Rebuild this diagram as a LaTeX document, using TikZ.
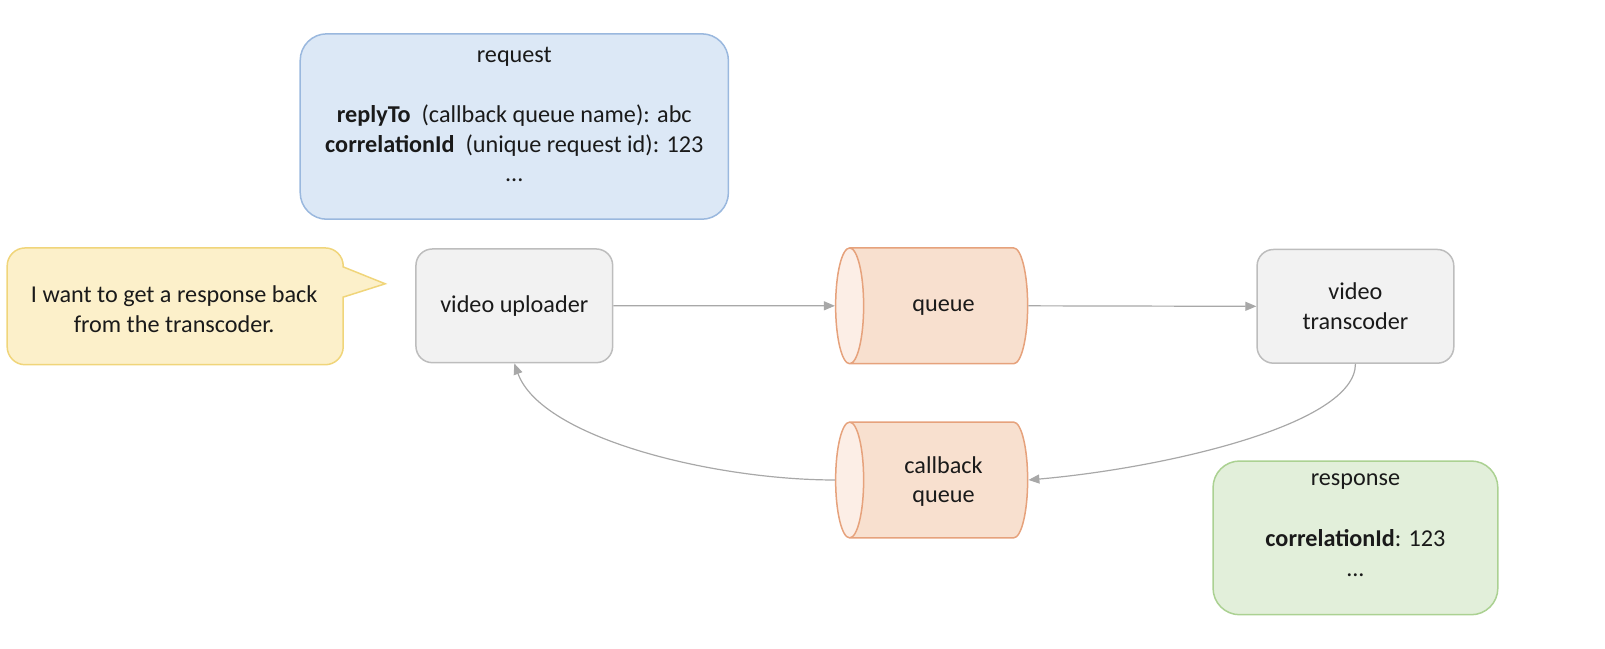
\documentclass[tikz,border=0pt]{standalone}
\usepackage{fontspec}
\setmainfont{Carlito}
\usetikzlibrary{shapes.geometric,arrows.meta}
\definecolor{txt}{HTML}{1A1A1A}
\definecolor{reqfill}{HTML}{DCE8F6}
\definecolor{reqline}{HTML}{9AB8DE}
\definecolor{sayfill}{HTML}{FCF0CA}
\definecolor{sayline}{HTML}{F0D57A}
\definecolor{boxfill}{HTML}{F2F2F2}
\definecolor{boxline}{HTML}{BDBDBD}
\definecolor{qfill}{HTML}{F8E0CF}
\definecolor{qend}{HTML}{FCEEE6}
\definecolor{qline}{HTML}{E6A27C}
\definecolor{resfill}{HTML}{E2EFDA}
\definecolor{resline}{HTML}{ABD192}
\definecolor{wire}{HTML}{A8A8A8}
\tikzset{
  service/.style={rounded corners=16.4pt, draw=boxline, fill=boxfill, line width=1.5pt,
    minimum width=196.7pt, minimum height=113.7pt, align=center, text=txt},
  queuebox/.style={cylinder, shape border rotate=180, aspect=1, inner sep=14pt, draw=qline,
    line width=1.5pt, cylinder uses custom fill, cylinder body fill=qfill,
    cylinder end fill=qend, minimum width=115.8pt, minimum height=192pt,
    label={[text=txt, align=center, yshift=-1.5pt]center:#1}},
  msgbox/.style={rounded corners=26.6pt, line width=1.5pt, align=center, text=txt},
  wire/.style={draw=wire, line width=1.2pt, -{Triangle[length=11pt,width=9pt]}},
}
\begin{document}
\begin{tikzpicture}[x=1.0245pt, y=-1.0245pt, every node/.style={font=\fontsize{24.2}{29.5}\selectfont}]
  \useasboundingbox (0,0) rectangle (1566.6,632.5);
  % messages
  \node[msgbox, draw=reqline, fill=reqfill, minimum width=428.2pt, minimum height=185.4pt] (request) at (502,123.5) {};
  \node[text=txt] (reqtitle) at (502,55) {request};
  \node[text=txt, align=center] (reqbody) at (502,140) {\textbf{replyTo}~~(callback queue name): abc\\
    \textbf{correlationId}~~(unique request id): 123\\...};
  \node[msgbox, draw=resline, fill=resfill, minimum width=284.8pt, minimum height=153.7pt] (response) at (1323,525) {};
  \node[text=txt] (restitle) at (1323,470) {response};
  \node[text=txt, align=center] (resbody) at (1323,540) {\textbf{correlationId}: 123\\...};
  % speech bubble
  \draw[draw=sayline, fill=sayfill, line width=1.5pt]
    (7,300) [rounded corners=18pt] -- (7,242) -- (335,242) [sharp corners] -- (335,260.5)
    -- (376,277) -- (335,290) [rounded corners=18pt] -- (335,356) -- (7,356) -- cycle;
  \node[text=txt, align=center] (say) at (170,302) {I want to get a response back\\from the transcoder.};
  % services and queues
  \node[service] (uploader) at (502,298.5) {video uploader};
  \node[queuebox=queue] (queue) at (921,298.5) {};
  \node[service] (transcoder) at (1323,299) {video\\transcoder};
  \node[queuebox={callback\\queue}] (callback) at (921,468.5) {};
  % connectors
  \draw[wire] (uploader) -- (queue);
  \draw[wire] (queue.east) -- (transcoder.west);
  \draw[wire] (transcoder.south) to[out=-90, in=5, out looseness=0.45] (callback.east);
  \draw[wire] (callback.west) to[out=180, in=-70, out looseness=0.9, in looseness=0.6] (uploader.south);
\end{tikzpicture}
\end{document}
